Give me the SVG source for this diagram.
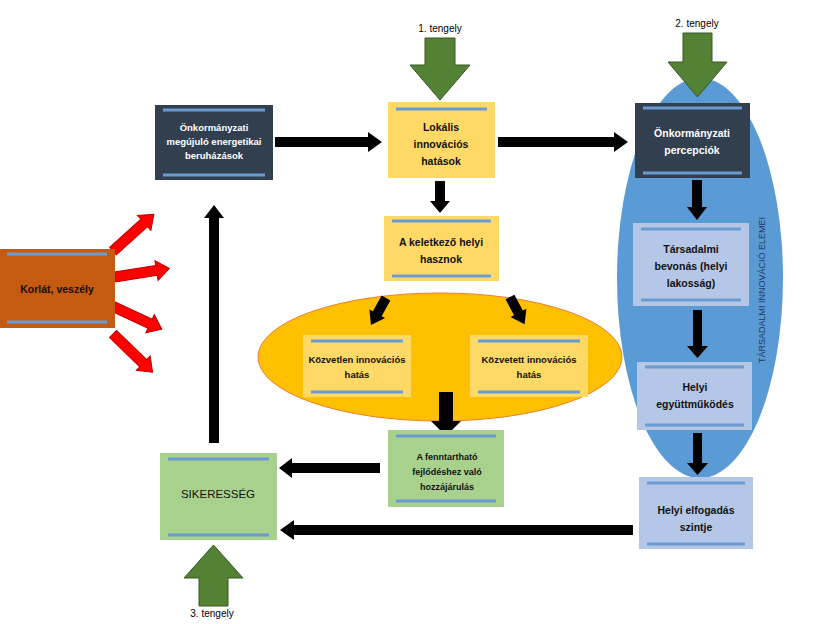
<svg xmlns="http://www.w3.org/2000/svg" width="817" height="624" viewBox="0 0 817 624">
<style>
text{font-family:"Liberation Sans",Arial,sans-serif;text-anchor:middle}
.b{font-weight:bold;font-size:10.5px;fill:#111}
.w{font-weight:bold;font-size:10.5px;fill:#fff}
.t{font-size:10px;fill:#000}
.ln{stroke:#6C9BD2;stroke-width:3}
.dark{fill:#323F4F}
.yel{fill:#FFD966}
.grn{fill:#A9D18E}
.lb{fill:#B4C7E7}
.blk{fill:#000}
.red{fill:#FF0000;stroke:#C00000;stroke-width:1}
.gar{fill:#548235;stroke:#385723;stroke-width:1}
</style>
<defs>
<path id="ra" d="M0,-5 L42,-5 L42,-10 L55,0 L42,10 L42,5 L0,5 Z"/>
</defs>
<rect width="817" height="624" fill="#fff"/>
<g id="ellipses">
<ellipse cx="700" cy="278" rx="83" ry="200" fill="#5B9BD5"/>
<ellipse cx="440" cy="357" rx="182" ry="64" fill="#FFC000" stroke="#ED7D31" stroke-width="1"/>
<text transform="translate(765,290) rotate(-90)" style="font-size:9px;fill:#1F3864">TÁRSADALMI INNOVÁCIÓ ELEMEI</text>
</g>
<g id="connectors">
<polygon class="blk" points="275,137 368,137 368,132 382,142 368,152 368,147 275,147"/>
<polygon class="blk" points="498,137 614,137 614,132 628,142 614,152 614,147 498,147"/>
<polygon class="blk" points="435,181 445,181 445,201 450,201 440,213 430,201 435,201"/>
<polygon class="blk" points="692,180 702,180 702,207 707,207 697,220 687,207 692,207"/>
<polygon class="blk" points="693,310 702,310 702,346 708,346 697.5,358 687,346 693,346"/>
<polygon class="blk" points="693,433 702,433 702,463 708,463 697.5,475 687,463 693,463"/>
<polygon class="blk" points="439,392 453,392 453,421 461,421 446,436 431,421 439,421"/>
<polygon class="blk" points="380,463 292,463 292,458 279,468 292,478 292,473 380,473"/>
<polygon class="blk" points="633,525 294,525 294,520 280,530 294,540 294,535 633,535"/>
<polygon class="blk" points="209,443 209,218 204,218 214,205 224,218 219,218 219,443"/>
<polygon class="blk" transform="translate(386,298) rotate(119)" points="0,-5 18,-5 18,-9 31,0 18,9 18,5 0,5"/>
<polygon class="blk" transform="translate(510,297) rotate(62)" points="0,-5 18,-5 18,-9 31,0 18,9 18,5 0,5"/>
<use href="#ra" class="red" transform="translate(113,251) rotate(-42)"/>
<use href="#ra" class="red" transform="translate(115,277) rotate(-9)"/>
<use href="#ra" class="red" transform="translate(112,306) rotate(25)"/>
<use href="#ra" class="red" transform="translate(113,334) rotate(44)"/>
</g>
<g id="axis1">
<polygon class="gar" points="425,38 455,38 455,65 470,65 440,100 410,65 425,65"/>
<text class="t" x="440" y="32">1. tengely</text>
</g>
<g id="axis2">
<polygon class="gar" points="683,33 712,33 712,62 727,62 697.5,97 668,62 683,62"/>
<text class="t" x="697" y="27">2. tengely</text>
</g>
<g id="axis3">
<polygon class="gar" points="199,606 228,606 228,578 243,578 213.5,545 184,578 199,578"/>
<text class="t" x="212" y="617">3. tengely</text>
</g>
<g id="n-beruhazas">
<rect class="dark" x="155" y="105" width="118" height="75"/>
<line class="ln" x1="163" y1="110" x2="265" y2="110"/>
<line class="ln" x1="163" y1="175" x2="265" y2="175"/>
<text class="w" style="font-size:9.5px" x="214" y="131">Önkormányzati</text>
<text class="w" style="font-size:9.5px" x="214" y="145">megújuló energetikai</text>
<text class="w" style="font-size:9.5px" x="214" y="159">beruházások</text>
</g>
<g id="n-lokalis">
<rect class="yel" x="388" y="102" width="107" height="76"/>
<line class="ln" x1="396" y1="109" x2="487" y2="109"/>
<text class="b" x="441" y="131">Lokális</text>
<text class="b" x="441" y="148">innovációs</text>
<text class="b" x="441" y="165">hatások</text>
</g>
<g id="n-percepciok">
<rect class="dark" x="635" y="103" width="115" height="75"/>
<line class="ln" x1="643" y1="108" x2="742" y2="108"/>
<line class="ln" x1="643" y1="173" x2="742" y2="173"/>
<text class="w" x="692" y="137">Önkormányzati</text>
<text class="w" x="692" y="154">percepciók</text>
</g>
<g id="n-hasznok">
<rect class="yel" x="384" y="216" width="115" height="65"/>
<line class="ln" x1="392" y1="221" x2="491" y2="221"/>
<line class="ln" x1="392" y1="276" x2="491" y2="276"/>
<text class="b" x="441" y="246">A keletkező helyi</text>
<text class="b" x="441" y="263">hasznok</text>
</g>
<g id="n-kozvetlen">
<rect class="yel" x="303" y="335" width="108" height="62"/>
<line class="ln" x1="311" y1="341" x2="403" y2="341"/>
<line class="ln" x1="311" y1="392" x2="403" y2="392"/>
<text class="b" style="font-size:9.5px" x="357" y="363">Közvetlen innovációs</text>
<text class="b" style="font-size:9.5px" x="357" y="378">hatás</text>
</g>
<g id="n-kozvetett">
<rect class="yel" x="470" y="335" width="118" height="62"/>
<line class="ln" x1="478" y1="341" x2="580" y2="341"/>
<line class="ln" x1="478" y1="392" x2="580" y2="392"/>
<text class="b" style="font-size:9.5px" x="529" y="363">Közvetett innovációs</text>
<text class="b" style="font-size:9.5px" x="529" y="378">hatás</text>
</g>
<g id="n-fenntarthato">
<rect class="grn" x="388" y="430" width="116" height="77"/>
<line class="ln" x1="396" y1="436" x2="496" y2="436"/>
<line class="ln" x1="396" y1="501" x2="496" y2="501"/>
<text class="b" style="font-size:9px" x="447" y="460">A fenntartható</text>
<text class="b" style="font-size:9px" x="447" y="475">fejlődéshez való</text>
<text class="b" style="font-size:9px" x="447" y="490">hozzájárulás</text>
</g>
<g id="n-sikeresseg">
<rect class="grn" x="160" y="453" width="117" height="87"/>
<line class="ln" x1="168" y1="459" x2="269" y2="459"/>
<line class="ln" x1="168" y1="535" x2="269" y2="535"/>
<text style="font-size:11.5px;fill:#111" x="218" y="498">SIKERESSÉG</text>
</g>
<g id="n-bevonas">
<rect class="lb" x="633" y="223" width="116" height="83"/>
<line class="ln" x1="641" y1="229" x2="741" y2="229"/>
<line class="ln" x1="641" y1="300" x2="741" y2="300"/>
<text class="b" x="691" y="253">Társadalmi</text>
<text class="b" x="691" y="270">bevonás (helyi</text>
<text class="b" x="691" y="287">lakosság)</text>
</g>
<g id="n-egyuttmukodes">
<rect class="lb" x="637" y="362" width="115" height="68"/>
<line class="ln" x1="645" y1="367" x2="744" y2="367"/>
<line class="ln" x1="645" y1="425" x2="744" y2="425"/>
<text class="b" x="695" y="391">Helyi</text>
<text class="b" x="695" y="408">együttműködés</text>
</g>
<g id="n-elfogadas">
<rect class="lb" x="639" y="477" width="114" height="72"/>
<line class="ln" x1="647" y1="483" x2="745" y2="483"/>
<line class="ln" x1="647" y1="544" x2="745" y2="544"/>
<text class="b" x="696" y="514">Helyi elfogadás</text>
<text class="b" x="696" y="531">szintje</text>
</g>
<g id="n-korlat">
<rect fill="#C55A11" x="0" y="249" width="115" height="79"/>
<line class="ln" x1="7" y1="254" x2="107" y2="254"/>
<line class="ln" x1="7" y1="322" x2="107" y2="322"/>
<text class="b" style="fill:#1a0d00" x="57" y="293">Korlát, veszély</text>
</g>
</svg>
